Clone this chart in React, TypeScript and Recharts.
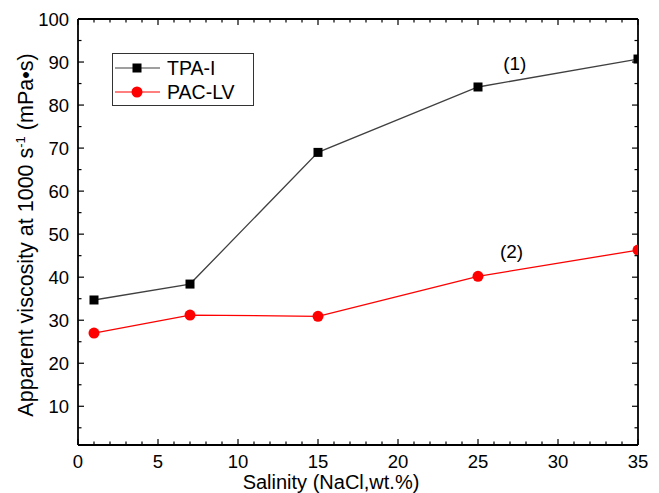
import React from "react";
import { LineChart, Line, XAxis, YAxis, Legend, ReferenceDot } from "recharts";

// Salinity (NaCl, wt.%)
const salinity = [1, 7, 15, 25, 35];
// Apparent viscosity at 1000 s^-1 (mPa·s)
const tpaI = [34.7, 38.4, 69.0, 84.2, 90.7];
const pacLV = [27.0, 31.2, 30.9, 40.2, 46.3];

const xTicks = Array.from({ length: 36 }, (_, i) => i);
const yTicks = [5, 10, 15, 20, 25, 30, 35, 40, 45, 50, 55, 60, 65, 70, 75, 80, 85, 90, 95, 100];

const data = salinity.map((s, i) => ({ x: s, tpa: tpaI[i], pac: pacLV[i] }));

const FONT = "'Liberation Sans', Arial, sans-serif";
const AXIS = "#000";

const BottomTick = (props: any) => {
  const { x, y, payload } = props;
  const major = payload.value % 5 === 0;
  return (
    <g>
      <line x1={x} y1={y} x2={x} y2={y - (major ? 6 : 3.5)} stroke={AXIS} strokeWidth={1.2} />
      {major && (
        <text x={x} y={y + 23} textAnchor="middle" fontSize={18.5} fontFamily={FONT} fill="#000">
          {payload.value}
        </text>
      )}
    </g>
  );
};

const TopTick = (props: any) => {
  const { x, y, payload } = props;
  const major = payload.value % 5 === 0;
  return <line x1={x} y1={y} x2={x} y2={y + (major ? 6 : 3.5)} stroke={AXIS} strokeWidth={1.2} />;
};

const LeftTick = (props: any) => {
  const { x, y, payload } = props;
  const major = payload.value % 10 === 0;
  return (
    <g>
      <line x1={x} y1={y} x2={x + (major ? 6 : 3.5)} y2={y} stroke={AXIS} strokeWidth={1.2} />
      {major && (
        <text x={x - 9} y={y + 6.5} textAnchor="end" fontSize={18.5} fontFamily={FONT} fill="#000">
          {payload.value}
        </text>
      )}
    </g>
  );
};

const RightTick = (props: any) => {
  const { x, y, payload } = props;
  const major = payload.value % 10 === 0;
  return <line x1={x} y1={y} x2={x - (major ? 6 : 3.5)} y2={y} stroke={AXIS} strokeWidth={1.2} />;
};

const SquareDot = (props: any) => {
  const { cx, cy } = props;
  if (cx == null || cy == null) return null;
  return <rect x={cx - 4.5} y={cy - 4.5} width={9} height={9} fill="#000" />;
};

const CircleDot = (props: any) => {
  const { cx, cy } = props;
  if (cx == null || cy == null) return null;
  return <circle cx={cx} cy={cy} r={5.5} fill="#ff0000" />;
};

const LegendBox = () => (
  <svg width={143} height={54} style={{ display: "block" }}>
    <rect x={0.5} y={0.5} width={141} height={52} fill="#fff" stroke="#333" strokeWidth={1} />
    <line x1={3} y1={15} x2={48} y2={15} stroke="#404040" strokeWidth={1.2} />
    <rect x={20.5} y={10.5} width={9} height={9} fill="#000" />
    <text x={55} y={22} fontSize={19.5} fontFamily={FONT} fill="#000">TPA-I</text>
    <line x1={3} y1={39} x2={48} y2={39} stroke="#ff0000" strokeWidth={1.2} />
    <circle cx={25} cy={39} r={5.5} fill="#ff0000" />
    <text x={55} y={46} fontSize={19.5} fontFamily={FONT} fill="#000">PAC-LV</text>
  </svg>
);

const YTitle = () => (
  <text
    transform="translate(33, 235) rotate(-90)"
    textAnchor="middle"
    fontSize={21.5}
    fontFamily={FONT}
    fill="#000"
  >
    Apparent viscosity at 1000 s
    <tspan fontSize={13} dy={-8}>-1</tspan>
    <tspan dy={8}> (mPa•s)</tspan>
  </text>
);

const XTitle = (props: any) => {
  const vb = props.viewBox || {};
  const cx = (vb.x ?? 78) + (vb.width ?? 560) / 2 - 27;
  return (
    <text x={cx} y={489} textAnchor="middle" fontSize={20} fontFamily={FONT} fill="#000">
      Salinity (NaCl,wt.%)
    </text>
  );
};

export default function App() {
  return (
    <div style={{ position: "absolute", left: 0, top: 0, width: 659, height: 493, background: "#fff" }}>
      <LineChart
        width={659}
        height={493}
        data={data}
        margin={{ top: 18, right: 20, left: 77, bottom: 47 }}
      >
        <XAxis
          xAxisId="b"
          dataKey="x"
          type="number"
          domain={[0, 35]}
          ticks={xTicks}
          interval={0}
          height={1}
          tickSize={0}
          tickMargin={0}
          tickLine={false}
          tick={<BottomTick />}
          axisLine={{ stroke: AXIS, strokeWidth: 1.8 }}
          allowDataOverflow
          label={{ content: <XTitle /> }}
        />
        <XAxis
          xAxisId="t"
          orientation="top"
          dataKey="x"
          type="number"
          domain={[0, 35]}
          ticks={xTicks}
          interval={0}
          height={1}
          tickSize={0}
          tickMargin={0}
          tickLine={false}
          tick={<TopTick />}
          axisLine={{ stroke: AXIS, strokeWidth: 1.8 }}
          allowDataOverflow
        />
        <YAxis
          yAxisId="l"
          type="number"
          domain={[1, 100]}
          ticks={yTicks}
          interval={0}
          width={1}
          tickSize={0}
          tickMargin={0}
          tickLine={false}
          tick={<LeftTick />}
          axisLine={{ stroke: AXIS, strokeWidth: 1.8 }}
          allowDataOverflow
          label={{ content: <YTitle /> }}
        />
        <YAxis
          yAxisId="r"
          orientation="right"
          type="number"
          domain={[1, 100]}
          ticks={yTicks}
          interval={0}
          width={1}
          tickSize={0}
          tickMargin={0}
          tickLine={false}
          tick={<RightTick />}
          axisLine={{ stroke: AXIS, strokeWidth: 1.8 }}
          allowDataOverflow
        />
        <Legend
          layout="horizontal"
          verticalAlign="middle"
          align="center"
          content={<LegendBox />}
          wrapperStyle={{ position: "absolute", left: 112, top: 53, width: 143, height: 54, margin: 0 }}
        />
        <Line
          xAxisId="b"
          yAxisId="l"
          dataKey="tpa"
          name="TPA-I"
          stroke="#404040"
          strokeWidth={1.3}
          dot={<SquareDot />}
          activeDot={false}
          isAnimationActive={false}
        />
        <Line
          xAxisId="b"
          yAxisId="l"
          dataKey="pac"
          name="PAC-LV"
          stroke="#ff0000"
          strokeWidth={1.3}
          dot={<CircleDot />}
          activeDot={false}
          isAnimationActive={false}
        />
        <ReferenceDot
          xAxisId="b"
          yAxisId="l"
          x={27.3}
          y={89.8}
          r={0}
          fill="none"
          stroke="none"
          label={{ value: "(1)", position: "center", style: { fontSize: 19, fontFamily: FONT, fill: "#000" } }}
        />
        <ReferenceDot
          xAxisId="b"
          yAxisId="l"
          x={27.1}
          y={46.0}
          r={0}
          fill="none"
          stroke="none"
          label={{ value: "(2)", position: "center", style: { fontSize: 19, fontFamily: FONT, fill: "#000" } }}
        />
      </LineChart>
    </div>
  );
}
